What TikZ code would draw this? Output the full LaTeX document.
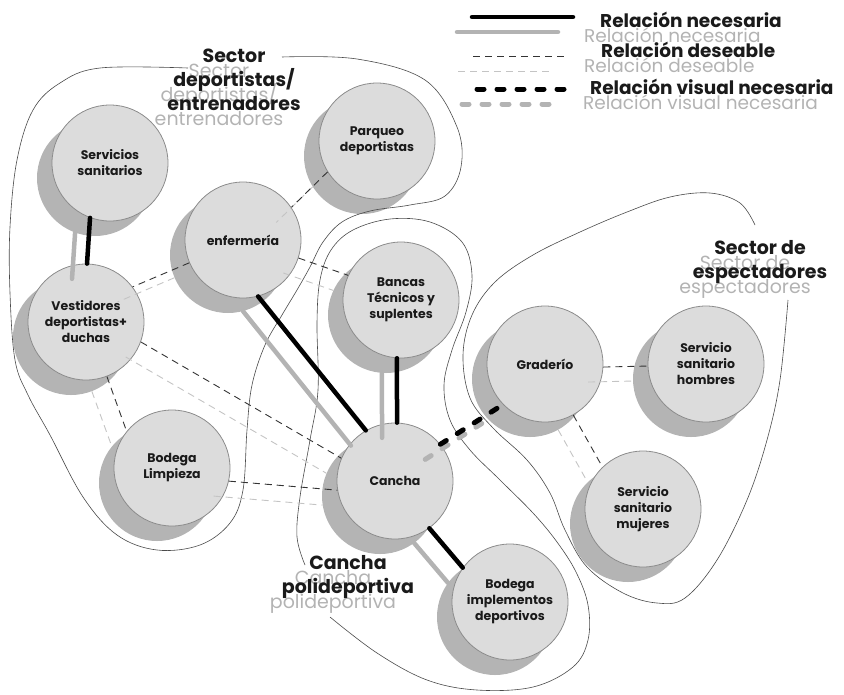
\documentclass[tikz,border=0pt]{standalone}
\usepackage{fontspec}
\setmainfont{Poppins}
\definecolor{frontfill}{HTML}{DCDCDC}
\definecolor{frontline}{HTML}{8C8C8C}
\definecolor{backfill}{HTML}{B4B4B4}
\definecolor{shadowgray}{HTML}{B3B3B3}
\definecolor{shadowlite}{HTML}{C4C4C4}
\definecolor{outline}{HTML}{4A4A4A}
\definecolor{ink}{HTML}{1A1A1A}
\tikzset{
  front/.style={circle, draw=frontline, fill=frontfill, line width=0.8pt,
    minimum size=116pt, inner sep=0pt, align=center, text=ink,
    font=\fontsize{12.5}{16}\selectfont\bfseries},
  back/.style={circle, fill=backfill, minimum size=116pt, inner sep=0pt,
    xshift=-15pt, yshift=-15pt},
  sector/.style={draw=outline, line width=0.6pt},
  nec/.style={line width=4.5pt, line cap=round, draw=black},
  necs/.style={line width=4.5pt, line cap=round, draw=shadowgray},
  des/.style={line width=0.9pt, dash pattern=on 7pt off 5pt, draw=black!80},
  dess/.style={line width=0.9pt, dash pattern=on 7pt off 5pt, draw=shadowlite},
  vis/.style={line width=5pt, line cap=round, dash pattern=on 7pt off 13pt, draw=black},
  viss/.style={line width=5pt, line cap=round, dash pattern=on 7pt off 13pt, draw=shadowgray},
  lab/.style={align=center, text=ink, inner sep=0pt,
    font=\fontsize{19}{24}\selectfont\bfseries},
  labs/.style={align=center, text=shadowgray, inner sep=0pt,
    font=\fontsize{19}{24}\selectfont},
  leg/.style={anchor=base west, inner sep=0pt, text=ink,
    font=\fontsize{18.5}{20}\selectfont\bfseries},
  legs/.style={anchor=base west, inner sep=0pt, text=shadowgray,
    font=\fontsize{18.5}{20}\selectfont},
}
% one room: shadow disc and labelled front disc
\newcommand\room[3]{%
  \node[back] (#1-s) at (#2) {};
  \node[front] (#1) at (#2) {#3};}
\begin{document}
\begin{tikzpicture}[x=1pt,y=-1pt]
\useasboundingbox (0,0) rectangle (844,694);

% rooms
\room{ss}{110,163}{Servicios\\sanitarios}
\room{pq}{377,141}{Parqueo\\deportistas}
\room{enf}{243,240}{enfermería}
\room{ves}{86,322}{Vestidores\\deportistas+\\duchas}
\room{ban}{401,300}{Bancas\\Técnicos y\\suplentes}
\room{can}{395,481}{Cancha}
\room{bl}{172,468}{Bodega\\Limpieza}
\room{bi}{510,602}{Bodega\\implementos\\deportivos}
\room{gra}{545,364}{Graderío}
\room{sh}{706,364}{Servicio\\sanitario\\hombres}
\room{sm}{643,509}{Servicio\\sanitario\\mujeres}

% sector outlines
\draw[sector] plot[smooth, tension=0.6] coordinates {
  (188,68) (100,68) (60,83) (33,110) (17,160) (10,227) (10,293) (15,360)
  (28,395) (50,435) (83,497) (117,535) (157,550) (200,545) (230,523)
  (243,490) (247,430) (252,385) (265,345) (282,315) (297,290) (310,267)
  (323,242) (342,222) (370,211) (410,205) (445,196) (461,167) (457,127)
  (425,80) (357,59) (282,57)};
\draw[sector] plot[smooth, tension=0.6] coordinates {
  (305,565) (297,537) (300,497) (310,440) (318,390) (317,323) (320,280)
  (331,250) (353,230) (390,219) (430,222) (462,242) (472,275) (466,312)
  (452,350) (444,385) (450,420) (470,450) (500,480) (533,513) (557,542)
  (576,572) (588,605) (588,640) (573,667) (533,687) (477,690) (427,680)
  (377,653) (330,617)};
\draw[sector] plot[smooth, tension=0.6] coordinates {
  (755,225) (740,203) (710,193) (670,197) (627,212) (580,232) (533,255)
  (495,282) (472,315) (463,355) (470,398) (493,428) (527,460) (550,493)
  (565,530) (587,567) (623,593) (657,603) (685,598) (717,560) (747,500)
  (767,440) (780,380) (788,300)};

% sector titles
\node[labs] (t1s) at (219,95) {Sector\\deportistas/\\entrenadores};
\node[lab]  (t1)  at (234,80) {Sector\\deportistas/\\entrenadores};
\node[labs] (t2s) at (745,277) {Sector de\\espectadores};
\node[lab]  (t2)  at (760,262) {Sector de\\espectadores};
\node[labs] (t3s) at (333,592) {Cancha\\polideportiva};
\node[lab]  (t3)  at (348,577) {Cancha\\polideportiva};

% relations: grey shadow first, then the black line
\draw[necs] (ss-s.-110) -- (ves-s.89);
\draw[necs] (enf-s.-75.7) -- (can-s.120.5);
\draw[necs] (ban-s.-94) -- (can-s.88);
\draw[necs] (can-s.-54) -- (bi-s.144);
\draw[dess] (pq-s.-148) -- (enf-s.34);
\draw[dess] (enf-s.-157.5) -- (ves-s.37);
\draw[dess] (enf-s.-18) -- (ban-s.155);
\draw[dess] (ves-s.-20) -- (can-s.157);
\draw[dess] (ves-s.-69) -- (bl-s.141);
\draw[dess] (bl-s.-13) -- (can-s.-171);
\draw[dess] (gra-s.-3) -- (sh-s.-178);
\draw[dess] (gra-s.-61) -- (sm-s.134);
\draw[viss] (can-s.39) -- (gra-s.-136);

\draw[nec] (ss.-110) -- (ves.89);
\draw[nec] (enf.-75.7) -- (can.120.5);
\draw[nec] (ban.-94) -- (can.88);
\draw[nec] (can.-54) -- (bi.144);
\draw[des] (pq.-148) -- (enf.34);
\draw[des] (enf.-157.5) -- (ves.37);
\draw[des] (enf.-18) -- (ban.155);
\draw[des] (ves.-20) -- (can.157);
\draw[des] (ves.-69) -- (bl.141);
\draw[des] (bl.-13) -- (can.-171);
\draw[des] (gra.-3) -- (sh.-178);
\draw[des] (gra.-61) -- (sm.134);
\draw[vis] (can.39) -- (gra.-136);

% legend
\coordinate (k1a) at (472,17); \coordinate (k1b) at (573,17);
\coordinate (k2a) at (473,56); \coordinate (k2b) at (567,56);
\coordinate (k3a) at (477,89); \coordinate (k3b) at (570,89);
\draw[necs] ([shift={(-15,15)}]k1a) -- ([shift={(-15,15)}]k1b);
\draw[nec]  (k1a) -- (k1b);
\draw[dess] ([shift={(-15,15)}]k2a) -- ([shift={(-15,15)}]k2b);
\draw[des]  (k2a) -- (k2b);
\draw[viss] ([shift={(-15,15)}]k3a) -- ([shift={(-15,15)}]k3b);
\draw[vis]  (k3a) -- (k3b);
\node[legs] (l1s) at (584,42) {Relación necesaria};
\node[leg]  (l1)  at (600,27) {Relación necesaria};
\node[legs] (l2s) at (584,72) {Relación deseable};
\node[leg]  (l2)  at (601,57) {Relación deseable};
\node[legs] (l3s) at (583,109) {Relación visual necesaria};
\node[leg]  (l3)  at (590,94) {Relación visual necesaria};
\end{tikzpicture}
\end{document}
